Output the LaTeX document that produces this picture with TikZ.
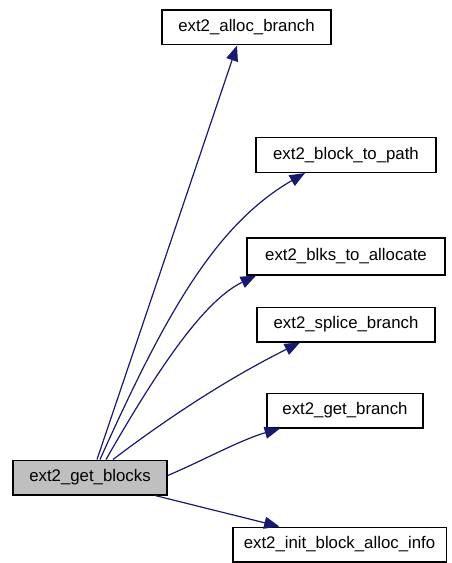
\documentclass[tikz,border=0pt]{standalone}
\usepackage{fontspec}
\setmainfont{Liberation Sans}
\usetikzlibrary{arrows.meta}
\definecolor{edgeblue}{HTML}{191970}
\definecolor{callerfill}{HTML}{BFBFBF}
\tikzset{
  fn/.style={draw=black, line width=1pt, fill=white, inner sep=0pt,
             minimum height=26pt, font=\fontsize{12.6}{14}\selectfont},
  call/.style={draw=edgeblue, line width=0.9pt,
               -{Triangle[length=11.5pt,width=9pt]}},
}
\begin{document}
\begin{tikzpicture}[x=0.75pt,y=-0.75pt]
  \useasboundingbox (0,0) rectangle (452,563);
  % called functions
  \node[fn, minimum width=126.75pt] (alloc) at (246.5,27.5) {ext2\_alloc\_branch};
  \node[fn, minimum width=135pt]   (path)  at (346,155)    {ext2\_block\_to\_path};
  \node[fn, minimum width=148.5pt, minimum height=27.75pt] (blks) at (346,256.5) {ext2\_blks\_to\_allocate};
  \node[fn, minimum width=133.5pt] (splice) at (346,324.5) {ext2\_splice\_branch};
  \node[fn, minimum width=117pt]   (getbr) at (345,410.5)  {ext2\_get\_branch};
  \node[fn, minimum width=160pt]   (init)  at (339.5,544.5) {ext2\_init\_block\_alloc\_info};
  % caller
  \node[fn, fill=callerfill, minimum width=115.5pt] (caller) at (90,477.5) {ext2\_get\_blocks};
  % calls
  \draw[call] ([xshift=7*0.75pt]caller.north) -- ([xshift=-9.5*0.75pt]alloc.south);
  \draw[call] ([xshift=10*0.75pt]caller.north) .. controls (165,315) and (215,225) .. ([xshift=-41*0.75pt]path.south);
  \draw[call] ([xshift=16*0.75pt]caller.north) .. controls (160,365) and (205,300) .. ([xshift=-90*0.75pt]blks.south);
  \draw[call] ([xshift=23*0.75pt]caller.north) .. controls (165,420) and (225,380) .. ([xshift=-46*0.75pt]splice.south);
  \draw[call] ([yshift=2*0.75pt]caller.east) .. controls (200,462) and (240,440) .. ([xshift=-65*0.75pt]getbr.south);
  \draw[call] ([xshift=65*0.75pt]caller.south) -- ([xshift=-60*0.75pt]init.north);
\end{tikzpicture}
\end{document}
